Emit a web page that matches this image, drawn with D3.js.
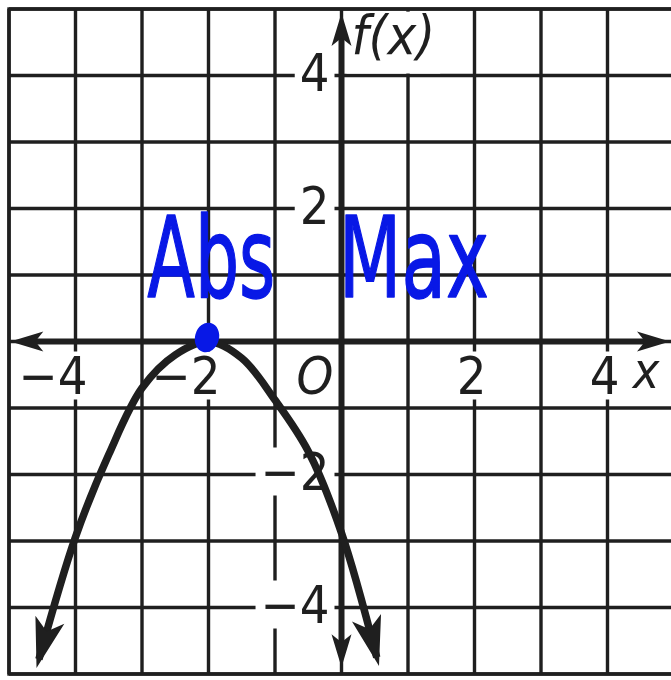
<!DOCTYPE html>
<html>
<head>
<meta charset="utf-8">
<script src="https://cdn.jsdelivr.net/npm/d3@7"></script>
<style>
html, body { margin: 0; padding: 0; background: #fff; }
svg { display: block; }
</style>
</head>
<body>
<svg id="chart"></svg>
<script>
// grid lines and tick labels (graph units)
var gridValues = [-5, -4, -3, -2, -1, 0, 1, 2, 3, 4, 5];
var xTickValues = [-4, -2, 2, 4];
var xTickLabels = ['\u22124', '\u22122', '2', '4'];
var yTickValues = [4, 2, -2, -4];
var yTickLabels = ['4', '2', '\u22122', '\u22124'];

// the parabola, from one arrow to the other
var curveX = [-4.55, -4, -3.5, -3, -2.5, -2, -1.5, -1, -0.5, 0, 0.53];
var curveY = [-4.78, -2.94, -1.7, -0.7, -0.2, 0, -0.25, -0.88, -1.65, -2.88, -4.75];

// handwritten note
var maxPoint = [-2, 0];
var noteWords = ['Abs', 'Max'];

var W = 671, H = 680;
var ink = '#1f1f1f', blue = '#0818e6';
var labelFont = '"Liberation Sans Narrow", "Arial Narrow", "DejaVu Sans Condensed", sans-serif';

var svg = d3.select('#chart').attr('width', W).attr('height', H);

var x = d3.scaleLinear().domain([-5, 5]).range([9, 674]);
var y = d3.scaleLinear().domain([-5, 5]).range([674, 9]);

var defs = svg.append('defs');
function arrowMarker(id, len, half, notch, back){
    defs.append('marker')
        .attr('id', id)
        .attr('markerUnits', 'userSpaceOnUse')
        .attr('viewBox', `${-len - 2} ${-half - 2} ${len + 4} ${half * 2 + 4}`)
        .attr('markerWidth', len + 4)
        .attr('markerHeight', half * 2 + 4)
        .attr('refX', -back)
        .attr('refY', 0)
        .attr('orient', 'auto-start-reverse')
      .append('path')
        .attr('d', `M0,0 L${-len},${-half} L${-notch},0 L${-len},${half} Z`)
        .attr('fill', ink);
}
arrowMarker('axisArrow', 33, 10, 25, 12);
arrowMarker('curveArrow', 50, 15, 38, 9);

// grid
svg.append('g').selectAll('line')
    .data(gridValues)
    .join('line')
    .attr('x1', d => x(d)).attr('x2', d => x(d))
    .attr('y1', y(5)).attr('y2', y(-5))
    .attr('stroke', ink).attr('stroke-width', 3.4);
svg.append('g').selectAll('line')
    .data(gridValues)
    .join('line')
    .attr('y1', d => y(d)).attr('y2', d => y(d))
    .attr('x1', x(-5)).attr('x2', x(5))
    .attr('stroke', ink).attr('stroke-width', 3.4);

// labels sit on white boxes that cut the grid
var labels = svg.append('g');
function addLabel(txt, px, py, anchor, italic, size){
    var g = labels.append('g');
    var box = g.append('rect').attr('fill', '#fff');
    var t = g.append('text')
        .attr('x', px).attr('y', py)
        .attr('text-anchor', anchor)
        .attr('font-family', labelFont)
        .attr('font-size', size)
        .attr('font-style', italic ? 'italic' : 'normal')
        .attr('fill', ink)
        .text(txt);
    var b = t.node().getBBox();
    box.attr('x', b.x - 5).attr('y', b.y + 6)
        .attr('width', b.width + 10).attr('height', b.height - 12);
    return box;
}
xTickValues.forEach((v, i) => addLabel(xTickLabels[i], x(v) + 12, y(0) + 52, 'end', false, 52));
yTickValues.forEach((v, i) => addLabel(yTickLabels[i], x(0) - 12, y(v) + 15, 'end', false, 52));
addLabel('O', x(-0.4), y(0) + 52, 'middle', true, 52);
addLabel('x', x(4.38), y(0) + 46, 'start', true, 50);
addLabel('f(x)', x(0.15), y(4.33), 'start', true, 54)
    .attr('y', y(4.96)).attr('height', y(4.03) - y(4.96));

// the frame is drawn again over the label boxes
svg.append('rect')
    .attr('x', x(-5)).attr('y', y(5))
    .attr('width', x(5) - x(-5)).attr('height', y(-5) - y(5))
    .attr('fill', 'none').attr('stroke', ink).attr('stroke-width', 3.4);

// axes
svg.append('line')
    .attr('x1', x(-4.98) + 12).attr('x2', x(4.94) - 12)
    .attr('y1', y(0)).attr('y2', y(0))
    .attr('stroke', ink).attr('stroke-width', 6)
    .attr('marker-start', 'url(#axisArrow)')
    .attr('marker-end', 'url(#axisArrow)');
svg.append('line')
    .attr('x1', x(0)).attr('x2', x(0))
    .attr('y1', y(4.94) + 12).attr('y2', y(-4.9) - 12)
    .attr('stroke', ink).attr('stroke-width', 6)
    .attr('marker-start', 'url(#axisArrow)')
    .attr('marker-end', 'url(#axisArrow)');

// parabola
var pts = curveX.map((v, i) => [v, curveY[i]]);
svg.append('path')
    .datum(pts)
    .attr('d', d3.line().x(d => x(d[0])).y(d => y(d[1])).curve(d3.curveCatmullRom.alpha(0.5)))
    .attr('fill', 'none')
    .attr('stroke', ink)
    .attr('stroke-width', 7.5)
    .attr('marker-start', 'url(#curveArrow)')
    .attr('marker-end', 'url(#curveArrow)');

// handwriting in blue
svg.append('ellipse')
    .attr('cx', x(maxPoint[0]) - 1.5)
    .attr('cy', y(maxPoint[1]) - 4)
    .attr('rx', 12).attr('ry', 15)
    .attr('transform', `rotate(15 ${x(maxPoint[0]) - 1.5} ${y(maxPoint[1]) - 4})`)
    .attr('fill', blue);

var note = svg.append('g')
    .attr('font-family', labelFont)
    .attr('font-size', 112)
    .attr('fill', blue)
    .attr('stroke', blue)
    .attr('stroke-width', 1.5)
    .attr('stroke-linejoin', 'round');
note.append('text')
    .attr('x', x(-2.92)).attr('y', y(0.67))
    .attr('textLength', 128).attr('lengthAdjust', 'spacingAndGlyphs')
    .text(noteWords[0]);
note.append('text')
    .attr('x', x(-0.04)).attr('y', y(0.67))
    .attr('textLength', 150).attr('lengthAdjust', 'spacingAndGlyphs')
    .text(noteWords[1]);
</script>
</body>
</html>
